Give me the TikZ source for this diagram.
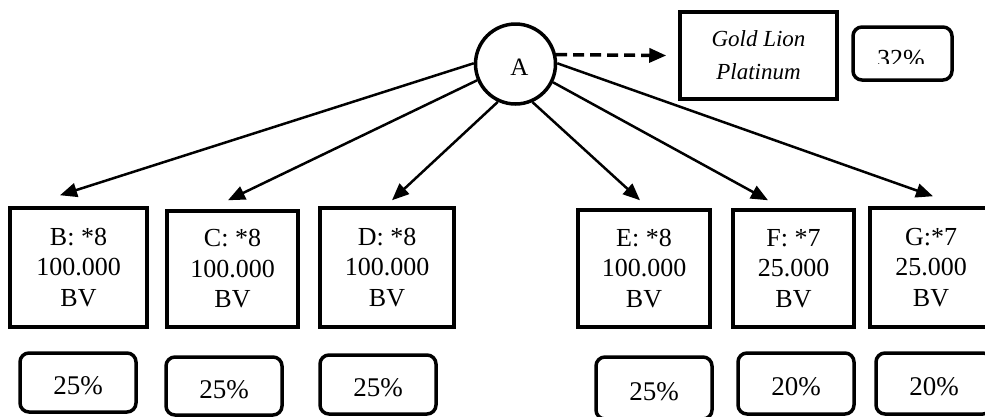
\documentclass[tikz,border=0pt]{standalone}
\usepackage{fontspec}
\setmainfont{Liberation Serif}
\usetikzlibrary{arrows.meta}
\begin{document}
\begin{tikzpicture}[x=1pt,y=-1pt,
  bx/.style={draw, line width=3.5pt, align=center, inner sep=0pt,
    font=\fontsize{26}{30.5}\selectfont},
  pc/.style={draw, line width=3.5pt, rounded corners=9pt, inner sep=0pt,
    minimum width=116pt, text height=24pt, text depth=0pt,
    font=\fontsize{27}{30}\selectfont},
  arr/.style={line width=2.5pt, -{Triangle[length=17pt,width=14pt]}},
  darr/.style={line width=3.5pt, dash pattern=on 11pt off 6pt,
    -{Triangle[length=17pt,width=14pt]}},
]
\clip (0,0) rectangle (985,416);
% root
\node[circle, draw, line width=3.5pt, minimum size=80pt, inner sep=0pt,
  text height=23.5pt, text depth=0pt, font=\fontsize{25}{25}\selectfont]
  (A) at (515.5,64) {\hspace*{8pt}A};
% top right
\node[bx, minimum width=157pt, minimum height=87pt,
  font=\itshape\fontsize{23}{33}\selectfont] (GL) at (758.5,55.5) {Gold Lion\\Platinum};
\node[pc, minimum width=99pt, minimum height=53pt] (P32) at (902.5,53.5) {};
\begin{scope}
  \clip (853,27) rectangle (952,63);
  \node[anchor=base, inner sep=0pt, font=\fontsize{26}{30}\selectfont] (T32) at (901,67.5) {32\%};
\end{scope}
% children
\node[bx, minimum width=137pt, minimum height=119pt] (B) at (78.5,267.5) {B: *8\\100.000\\BV};
\node[bx, minimum width=131pt, minimum height=116pt] (C) at (232.5,269) {C: *8\\100.000\\BV};
\node[bx, minimum width=134pt, minimum height=119pt] (D) at (387,267.5) {D: *8\\100.000\\BV};
\node[bx, minimum width=132pt, minimum height=117pt] (E) at (644,268.5) {E: *8\\100.000\\BV};
\node[bx, minimum width=121pt, minimum height=117pt] (F) at (793.5,268.5) {F: *7\\25.000\\BV};
\node[bx, minimum width=122pt, minimum height=119pt] (G) at (931,267.5) {G:*7\\25.000\\BV};
% percentages
\node[pc, minimum height=59pt] (PB) at (78,382.5) {25\%};
\node[pc, minimum height=58pt] (PC) at (224,386) {25\%};
\node[pc, minimum height=59pt] (PD) at (378,384.5) {25\%};
\node[pc, minimum height=62pt] (PE) at (654,388) {25\%};
\node[pc, minimum height=61pt] (PF) at (796,383.5) {20\%};
\node[pc, minimum height=61pt] (PG) at (934,383.5) {20\%};
% connectors
\draw[darr] (A.13) -- ([shift={(-12,0)}]GL.west);
\draw[arr] (A.179) -- ([shift={(-18.5,-11)}]B.north);
\draw[arr] (A.203) -- ([shift={(-4.5,-9)}]C.north);
\draw[arr] (A.245.5) -- ([shift={(5,-6)}]D.north);
\draw[arr] (A.294.6) -- ([shift={(-4,-8)}]E.north);
\draw[arr] (A.334.4) -- ([shift={(-25.5,-8)}]F.north);
\draw[arr] (A.1.4) -- ([shift={(2,-10)}]G.north);
\end{tikzpicture}
\end{document}
